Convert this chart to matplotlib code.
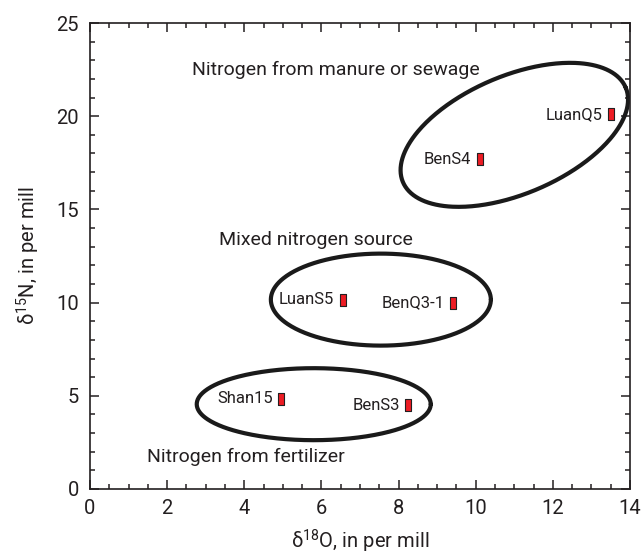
import numpy as np
import matplotlib.pyplot as plt
from matplotlib.ticker import MultipleLocator

plt.rcParams['font.family'] = ['Roboto', 'DejaVu Sans']
plt.rcParams['mathtext.fontset'] = 'custom'
plt.rcParams['mathtext.rm'] = 'Roboto'
plt.rcParams['mathtext.default'] = 'regular'

# nitrate isotope results per sample
samples = ['LuanQ5', 'BenS4', 'LuanS5', 'BenQ3-1', 'Shan15', 'BenS3']
d18O = [13.5, 10.1, 6.55, 9.4, 4.95, 8.25]
d15N = [20.1, 17.7, 10.15, 10.0, 4.85, 4.5]

# source fields: centre (d18O, d15N), half-axes in screen pixels, tilt in degrees
field_names = ['Nitrogen from manure or sewage', 'Mixed nitrogen source',
               'Nitrogen from fertilizer']
field_cx = [11.0, 7.54, 5.8]
field_cy = [19.0, 10.16, 4.55]
field_a = [121, 110, 117]
field_b = [59, 46, 36]
field_tilt = [23, 0, 0]
label_x = [2.64, 3.34, 1.48]
label_y = [22.48, 13.36, 1.72]

fig = plt.figure(figsize=(6.44, 5.57), dpi=100)
ax = fig.add_axes([0.1398, 0.1221, 0.8385, 0.8366])
ax.set_xlim(0, 14)
ax.set_ylim(0, 25)

# pixels per data unit, so the rings can be laid out in screen space
bbox = ax.get_window_extent()
px_x = bbox.width / 14
px_y = bbox.height / 25

t = np.linspace(0, 2 * np.pi, 400)
for cx, cy, a, b, tilt in zip(field_cx, field_cy, field_a, field_b, field_tilt):
    th = np.radians(tilt)
    u = a * np.cos(th) * np.cos(t) - b * np.sin(th) * np.sin(t)
    v = a * np.sin(th) * np.cos(t) + b * np.cos(th) * np.sin(t)
    ax.plot(cx + u / px_x, cy + v / px_y, color='#1a1a1a', lw=3, solid_capstyle='round')

for name, x, y in zip(field_names, label_x, label_y):
    ax.text(x, y, name, fontsize=14, color='#231f20', ha='left', va='center')

rect = [(-0.5, -1), (0.5, -1), (0.5, 1), (-0.5, 1), (-0.5, -1)]
ax.plot(d18O, d15N, ls='none', marker=rect, markersize=8.5,
        markerfacecolor='#ed1c24', markeredgecolor='#231f20', markeredgewidth=0.8)
for s, x, y in zip(samples, d18O, d15N):
    ax.annotate(s, (x, y), xytext=(-6, 0), textcoords='offset points',
                ha='right', va='center', fontsize=12, color='#231f20')

ax.xaxis.set_major_locator(MultipleLocator(2))
ax.xaxis.set_minor_locator(MultipleLocator(0.5))
ax.yaxis.set_major_locator(MultipleLocator(5))
ax.yaxis.set_minor_locator(MultipleLocator(1))
ax.tick_params(which='both', direction='in', top=True, right=True,
               width=1.1, colors='#231f20', labelsize=14.5)
ax.tick_params(which='major', length=6.5)
ax.tick_params(which='minor', length=3.5)
ax.tick_params(axis='x', pad=7)
ax.tick_params(axis='y', pad=8)
for sp in ax.spines.values():
    sp.set_linewidth(1.2)
    sp.set_color('#231f20')

ax.set_xlabel(r'$\delta^{18}$O, in per mill', fontsize=14.5, color='#231f20', labelpad=7)
ax.set_ylabel(r'$\delta^{15}$N, in per mill', fontsize=14.5, color='#231f20', labelpad=10)

fig.savefig('out.png', dpi=100)
